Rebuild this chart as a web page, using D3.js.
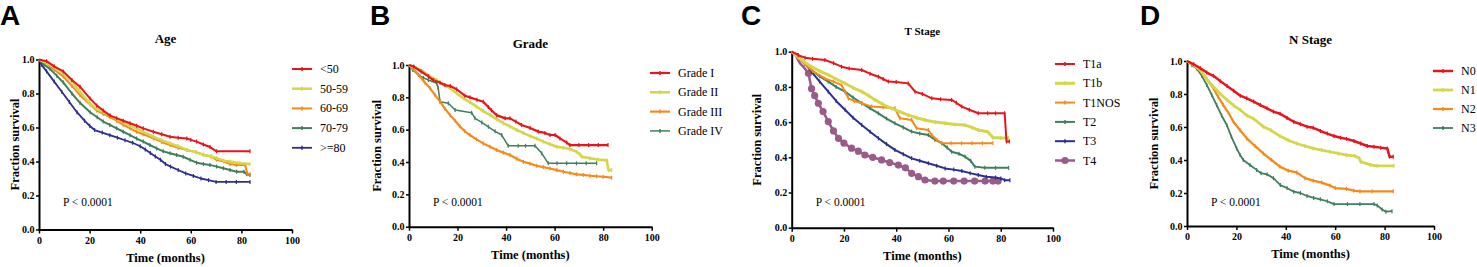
<!DOCTYPE html>
<html>
<head>
<meta charset="utf-8">
<script src="https://cdn.jsdelivr.net/npm/d3@7"></script>
<style>
  body { margin: 0; background: #fff; }
  svg { display: block; }
  .tick text { font-family: "Liberation Serif", serif; font-weight: bold; font-size: 10px; }
</style>
</head>
<body>
<div id="chart"></div>
<script>
// axis ticks
const timeTicks = [0, 20, 40, 60, 80, 100];
const survTicks = [0, 0.2, 0.4, 0.6, 0.8, 1.0];

// A - Age  ([months, fraction surviving])
const ageLt50 = [[0,1],[3,0.99],[6,0.96],[9.6,0.93],[13,0.88],[16.2,0.84],[20.2,0.77],[22.8,0.73],[25.4,0.70],[28.1,0.67],[30.7,0.655],[33.3,0.64],[36,0.625],[38.6,0.61],[41.2,0.595],[45.2,0.575],[48.5,0.56],[51.8,0.546],[55,0.54],[58.4,0.535],[60,0.527],[62.3,0.517],[65,0.50],[67.6,0.485],[70.2,0.46],[83.4,0.46]];
const age5059 = [[0,1],[3,0.98],[6,0.955],[9.6,0.92],[13,0.87],[16.2,0.81],[20.2,0.74],[22.8,0.71],[25.4,0.69],[28.1,0.67],[30.7,0.65],[33.3,0.63],[36,0.61],[38.6,0.595],[41.2,0.575],[45.2,0.546],[48.5,0.525],[51.8,0.507],[55,0.49],[58.4,0.468],[62,0.455],[65,0.44],[68,0.43],[70.2,0.42],[73,0.405],[75.5,0.40],[79.4,0.39],[83.4,0.385]];
const age6069 = [[0,1],[3,0.975],[6,0.94],[9.6,0.90],[13,0.845],[16.2,0.79],[20.2,0.735],[22.8,0.70],[25.4,0.68],[28.1,0.66],[30.7,0.64],[33.3,0.615],[36,0.595],[38.6,0.575],[41.2,0.56],[45.2,0.536],[48.5,0.515],[51.8,0.497],[55,0.48],[58.4,0.468],[62,0.455],[65,0.44],[68,0.43],[70.2,0.41],[73,0.40],[75.5,0.385],[78,0.38],[81.5,0.38],[82.3,0.33],[83.4,0.325]];
const age7079 = [[0,1],[2,0.97],[4.3,0.945],[7,0.905],[9.6,0.865],[13,0.80],[16.2,0.745],[20.2,0.69],[23,0.66],[25.4,0.635],[28,0.615],[30.7,0.595],[33.3,0.575],[36,0.555],[38.6,0.535],[41.2,0.517],[43.8,0.497],[46.5,0.477],[49.1,0.46],[51.8,0.448],[54.4,0.438],[57,0.428],[59.7,0.41],[62.3,0.393],[65,0.385],[67.6,0.38],[70.2,0.37],[72.9,0.36],[75.5,0.35],[78.1,0.34],[81,0.34],[82.1,0.325],[83.4,0.32]];
const ageGe80 = [[0,1],[1,0.97],[3,0.93],[6,0.87],[9,0.81],[12,0.75],[15,0.69],[18,0.64],[20,0.61],[22,0.585],[25,0.57],[28,0.555],[31,0.54],[34,0.525],[37,0.51],[40,0.49],[42,0.47],[44,0.45],[46,0.43],[48,0.41],[50,0.385],[52,0.37],[55,0.35],[58,0.33],[61,0.315],[64,0.30],[67,0.29],[70,0.28],[74,0.28],[78,0.28],[83.4,0.28]];

// B - Grade
const gradeI = [[0,1],[2,0.99],[5,0.96],[8,0.93],[10,0.907],[12.8,0.89],[14.8,0.876],[17,0.87],[19.6,0.85],[23,0.81],[25.1,0.80],[28,0.785],[30.6,0.773],[32.7,0.74],[34,0.72],[36.1,0.69],[39.6,0.67],[41.6,0.67],[44,0.65],[46.4,0.629],[49.9,0.61],[53.3,0.588],[56,0.58],[58.1,0.567],[60.2,0.567],[62.2,0.546],[65,0.52],[66.3,0.505],[70,0.505],[74,0.505],[78,0.505],[82,0.505]];
const gradeII = [[0,1],[3,0.98],[5.9,0.96],[8.5,0.93],[11.4,0.907],[14,0.88],[16.9,0.856],[19.6,0.825],[22.4,0.794],[25.1,0.77],[27.9,0.742],[30.6,0.715],[33.4,0.69],[36.1,0.665],[38.9,0.64],[41.6,0.62],[44.4,0.598],[47.1,0.58],[49.9,0.56],[52.6,0.545],[55.4,0.526],[58.1,0.51],[60.9,0.495],[63.6,0.488],[66.3,0.48],[69.1,0.464],[70.5,0.445],[71.2,0.433],[74.6,0.423],[78,0.415],[81.5,0.41],[82.2,0.35],[83.5,0.35]];
const gradeIII = [[0,1],[2,0.97],[4.5,0.93],[6.6,0.89],[8.7,0.856],[10.7,0.815],[12.8,0.773],[14.8,0.73],[16.9,0.69],[19,0.655],[21,0.62],[23,0.59],[25.1,0.567],[27.8,0.54],[30.6,0.515],[33.4,0.494],[36.1,0.474],[38.9,0.458],[41.6,0.443],[44.4,0.42],[47.1,0.402],[49.9,0.39],[52.6,0.377],[55.4,0.368],[58.1,0.36],[60.9,0.35],[63.6,0.34],[66.3,0.332],[69.1,0.324],[71.8,0.32],[74.6,0.315],[77.3,0.312],[80,0.309],[83.5,0.303]];
const gradeIV = [[0,1],[1.5,0.97],[3.9,0.938],[6,0.92],[8,0.907],[11.4,0.887],[12,0.86],[12.8,0.773],[16.2,0.763],[19,0.722],[25.8,0.705],[27.2,0.67],[30,0.645],[32.7,0.618],[35.5,0.59],[38.2,0.567],[40.9,0.50],[45,0.50],[48,0.50],[51.9,0.50],[54.7,0.454],[57.4,0.392],[61,0.392],[65,0.392],[69,0.392],[73,0.392],[77.3,0.392]];

// C - T stage
const t1a = [[0,1],[2.5,0.98],[5.1,0.966],[8,0.96],[12.7,0.953],[16,0.935],[19.1,0.915],[22,0.905],[26.8,0.896],[30,0.875],[33.2,0.858],[35,0.845],[37,0.83],[40,0.828],[44.6,0.82],[47.2,0.773],[50,0.76],[53.6,0.735],[57,0.73],[61.2,0.726],[63,0.71],[65.1,0.688],[68,0.67],[71.4,0.65],[75,0.65],[78,0.65],[81.5,0.65],[82.2,0.49],[83.3,0.49]];
const t1b = [[0,1],[2.5,0.97],[5,0.94],[7.6,0.915],[10.7,0.89],[14,0.868],[17,0.845],[20.4,0.82],[23.5,0.795],[26.8,0.773],[29.5,0.75],[31.9,0.726],[35,0.70],[38.2,0.678],[41.5,0.658],[44.6,0.64],[47.8,0.625],[51,0.612],[55,0.60],[58.7,0.593],[62.5,0.587],[66.3,0.583],[69,0.57],[71.4,0.555],[75,0.545],[77,0.513],[80,0.51],[83,0.51]];
const t1nos = [[0,1],[2.5,0.965],[5.1,0.93],[8,0.89],[12.7,0.848],[16,0.83],[19.1,0.81],[21.7,0.735],[24,0.72],[26.8,0.707],[30.6,0.688],[35,0.685],[39.5,0.678],[41.4,0.622],[45.9,0.612],[47.8,0.565],[52.3,0.555],[53.6,0.527],[55.5,0.50],[57.4,0.48],[61,0.48],[65,0.48],[69,0.48],[73,0.48],[77,0.48]];
const t2 = [[0,1],[2.5,0.97],[5,0.93],[7.6,0.896],[10.7,0.86],[14,0.83],[17,0.80],[20.4,0.773],[23.5,0.74],[26.8,0.707],[30,0.678],[33.2,0.65],[36.3,0.62],[39.5,0.593],[42.7,0.57],[45.9,0.546],[49,0.535],[52.3,0.527],[54.8,0.50],[57.4,0.48],[59.5,0.455],[61.2,0.432],[64,0.42],[66.3,0.404],[68.5,0.38],[70.1,0.347],[73.9,0.34],[78,0.34],[83,0.34]];
const t3 = [[0,1],[2.5,0.98],[5,0.935],[7.6,0.886],[10.7,0.83],[14,0.773],[17,0.72],[20.4,0.67],[23.5,0.625],[26.8,0.583],[30,0.545],[33.2,0.508],[36.3,0.475],[39.5,0.442],[42.7,0.418],[45.9,0.394],[49,0.38],[52.3,0.366],[55.5,0.352],[58.7,0.337],[62,0.33],[65.1,0.322],[68.3,0.31],[71.4,0.30],[74.5,0.29],[78,0.285],[80,0.28],[81.5,0.27],[83.5,0.27]];
const t4 = [[0,1],[1.5,0.98],[3.2,0.934],[5,0.905],[6.4,0.877],[7.6,0.79],[8.8,0.75],[10.2,0.707],[12,0.66],[14,0.603],[16,0.55],[17.9,0.508],[20,0.48],[22.9,0.452],[25.5,0.435],[28,0.413],[31,0.40],[34.4,0.385],[37.5,0.37],[40.8,0.356],[43.5,0.34],[45.9,0.309],[48.5,0.29],[51,0.271],[54.8,0.265],[58,0.265],[62,0.265],[66,0.265],[70,0.265],[74,0.265],[77,0.265],[79,0.265]];

// D - N stage
const n0 = [[0,1],[2.7,0.98],[5.4,0.956],[8,0.93],[10.7,0.91],[13.5,0.878],[16.2,0.848],[18.9,0.82],[21.6,0.79],[24.2,0.774],[27,0.754],[29.7,0.733],[32.4,0.713],[35,0.693],[37.7,0.68],[40.5,0.655],[43.2,0.632],[45.9,0.617],[48.6,0.602],[51.1,0.595],[54,0.576],[56.8,0.56],[59.5,0.545],[62.2,0.535],[64.6,0.528],[67.6,0.515],[70.3,0.50],[73,0.485],[75.7,0.48],[78.4,0.475],[81.1,0.47],[82,0.42],[83.5,0.42]];
const n1 = [[0,1],[2.7,0.975],[5.4,0.945],[8,0.89],[10.7,0.844],[13.5,0.80],[16.2,0.764],[18.9,0.73],[21.6,0.703],[24.2,0.67],[27,0.65],[30.9,0.602],[34,0.58],[37.6,0.545],[41,0.52],[44.4,0.50],[47.7,0.485],[51.1,0.47],[54.5,0.46],[57.9,0.45],[61.2,0.44],[64.6,0.43],[68,0.425],[69.8,0.41],[70.3,0.39],[74.3,0.37],[77,0.365],[83.8,0.365]];
const n2 = [[0,1],[2.7,0.975],[5.3,0.945],[8,0.89],[10.7,0.834],[12.7,0.78],[14.7,0.733],[16.8,0.685],[18.8,0.632],[21.5,0.58],[24.2,0.531],[27.5,0.485],[30.9,0.44],[34.2,0.40],[37.6,0.36],[41,0.335],[44.4,0.325],[47.8,0.29],[51.1,0.275],[54.5,0.263],[57.9,0.245],[60,0.23],[64.6,0.225],[67.5,0.215],[70,0.21],[75,0.21],[83.5,0.21]];
const n3 = [[0,1],[2,0.975],[3.9,0.955],[6,0.91],[8,0.855],[10,0.795],[12,0.733],[14,0.67],[16.1,0.612],[18,0.54],[20.1,0.47],[21.5,0.43],[22.8,0.40],[25.5,0.37],[28.2,0.34],[30,0.32],[32.4,0.313],[35,0.29],[37.8,0.248],[40.5,0.23],[43.2,0.208],[45.9,0.2],[48.6,0.182],[51.3,0.17],[54,0.162],[56.8,0.15],[59.5,0.133],[65,0.133],[70,0.133],[75.7,0.133],[77,0.125],[79,0.1],[80.5,0.087],[83,0.09]];

const RED = "#e8141d", YEL = "#d5d64a", ORA = "#f48a1c", GRN = "#3f7f5c", NAV = "#2c2f8e", PUR = "#9a5a8a";

const panels = [
  { letter: "A", lx: 0, title: "Age", titleSize: 13, left: 39, right: 292, top: 59.5, bottom: 229.5,
    ytitleX: 15, legX: 292, legY: 69, legStep: 19.7,
    series: [
      { name: "<50", data: ageLt50, color: RED, w: 2 },
      { name: "50-59", data: age5059, color: YEL, w: 2.5 },
      { name: "60-69", data: age6069, color: ORA, w: 2 },
      { name: "70-79", data: age7079, color: GRN, w: 2 },
      { name: ">=80", data: ageGe80, color: NAV, w: 1.8 }
    ] },
  { letter: "B", lx: 370, title: "Grade", titleSize: 13, left: 409, right: 651.7, top: 65, bottom: 226.7,
    ytitleX: 377, legX: 650, legY: 73, legStep: 19.3,
    series: [
      { name: "Grade I", data: gradeI, color: RED, w: 2.2 },
      { name: "Grade II", data: gradeII, color: YEL, w: 2.6 },
      { name: "Grade III", data: gradeIII, color: ORA, w: 2.2 },
      { name: "Grade IV", data: gradeIV, color: GRN, w: 1.5 }
    ] },
  { letter: "C", lx: 741, title: "T Stage", titleSize: 11, left: 791.7, right: 1053, top: 51.7, bottom: 227.7,
    ytitleX: 757, legX: 1055, legY: 64, legStep: 19.3,
    series: [
      { name: "T1a", data: t1a, color: RED, w: 2 },
      { name: "T1b", data: t1b, color: YEL, w: 3 },
      { name: "T1NOS", data: t1nos, color: ORA, w: 2 },
      { name: "T2", data: t2, color: GRN, w: 2 },
      { name: "T3", data: t3, color: NAV, w: 2 },
      { name: "T4", data: t4, color: PUR, w: 2.5, dot: 3.6 }
    ] },
  { letter: "D", lx: 1140, title: "N Stage", titleSize: 13, left: 1187, right: 1434, top: 61, bottom: 226,
    ytitleX: 1154, legX: 1433, legY: 71, legStep: 19,
    series: [
      { name: "N0", data: n0, color: RED, w: 2.5 },
      { name: "N1", data: n1, color: YEL, w: 2.8 },
      { name: "N2", data: n2, color: ORA, w: 2.3 },
      { name: "N3", data: n3, color: GRN, w: 1.8 }
    ] }
];

const svg = d3.select("#chart").append("svg")
  .attr("width", 1477)
  .attr("height", 267);

const serif = "'Liberation Serif', 'Times New Roman', serif";

panels.forEach(function (p) {
  let x = d3.scaleLinear().domain([0, 100]).range([p.left, p.right]);
  let y = d3.scaleLinear().domain([0, 1]).range([p.bottom, p.top]);
  let g = svg.append("g");

  // panel letter
  g.append("text")
    .attr("x", p.lx)
    .attr("y", 25)
    .attr("font-family", "'Liberation Sans', Arial, sans-serif")
    .attr("font-weight", "bold")
    .attr("font-size", 28)
    .text(p.letter);

  g.append("text")
    .attr("x", (p.left + p.right) / 2)
    .attr("y", p.top - 17)
    .attr("text-anchor", "middle")
    .attr("font-family", serif)
    .attr("font-weight", "bold")
    .attr("font-size", p.titleSize)
    .text(p.title);

  // axes
  let xAxis = g.append("g")
    .attr("transform", "translate(0," + p.bottom + ")")
    .call(d3.axisBottom(x).tickValues(timeTicks).tickFormat(d3.format("d")).tickSize(4).tickSizeOuter(0).tickPadding(3));
  let yAxis = g.append("g")
    .attr("transform", "translate(" + p.left + ",0)")
    .call(d3.axisLeft(y).tickValues(survTicks).tickFormat(d3.format(".1f")).tickSize(3).tickSizeOuter(0).tickPadding(1.5));
  [xAxis, yAxis].forEach(function (a) {
    a.select(".domain").attr("stroke-width", 2);
    a.selectAll(".tick line").attr("stroke-width", 1.5);
  });

  g.append("text")
    .attr("x", (p.left + p.right) / 2)
    .attr("y", p.bottom + 32)
    .attr("text-anchor", "middle")
    .attr("font-family", serif)
    .attr("font-weight", "bold")
    .attr("font-size", 12.5)
    .text("Time (months)");

  g.append("text")
    .attr("transform", "translate(" + p.ytitleX + "," + ((p.top + p.bottom) / 2) + ") rotate(-90)")
    .attr("text-anchor", "middle")
    .attr("dy", "0.35em")
    .attr("font-family", serif)
    .attr("font-weight", "bold")
    .attr("font-size", 12.5)
    .text("Fraction survival");

  g.append("text")
    .attr("x", p.left + 24)
    .attr("y", 206)
    .attr("font-family", serif)
    .attr("font-size", 11.5)
    .text("P < 0.0001");

  let line = d3.line()
    .x(function (d) { return x(d[0]); })
    .y(function (d) { return y(d[1]); });

  // draw last series first so the first one sits on top
  p.series.slice().reverse().forEach(function (s) {
    g.append("path")
      .datum(s.data)
      .attr("fill", "none")
      .attr("stroke", s.color)
      .attr("stroke-width", s.w)
      .attr("stroke-linejoin", "round")
      .attr("d", line);

    if (s.dot) {
      g.selectAll(null)
        .data(s.data.filter(function (d) { return d[0] > 6; }))
        .enter().append("circle")
        .attr("cx", function (d) { return x(d[0]); })
        .attr("cy", function (d) { return y(d[1]); })
        .attr("r", s.dot)
        .attr("fill", s.color);
    } else {
      // censor ticks
      g.selectAll(null)
        .data(s.data.slice(1))
        .enter().append("line")
        .attr("x1", function (d) { return x(d[0]); })
        .attr("x2", function (d) { return x(d[0]); })
        .attr("y1", function (d) { return y(d[1]) - 2; })
        .attr("y2", function (d) { return y(d[1]) + 2; })
        .attr("stroke", s.color)
        .attr("stroke-width", 1.2);
    }
  });

  // legend
  p.series.forEach(function (s, i) {
    let ly = p.legY + i * p.legStep;
    g.append("line")
      .attr("x1", p.legX)
      .attr("x2", p.legX + 20)
      .attr("y1", ly)
      .attr("y2", ly)
      .attr("stroke", s.color)
      .attr("stroke-width", s.w);
    if (s.dot) {
      g.append("circle")
        .attr("cx", p.legX + 10)
        .attr("cy", ly)
        .attr("r", s.dot)
        .attr("fill", s.color);
    } else {
      g.append("line")
        .attr("x1", p.legX + 10)
        .attr("x2", p.legX + 10)
        .attr("y1", ly - 2)
        .attr("y2", ly + 2)
        .attr("stroke", s.color)
        .attr("stroke-width", 1.5);
    }
    g.append("text")
      .attr("x", p.legX + 28)
      .attr("y", ly + 4)
      .attr("font-family", serif)
      .attr("font-size", 12)
      .text(s.name);
  });
});
</script>
</body>
</html>
